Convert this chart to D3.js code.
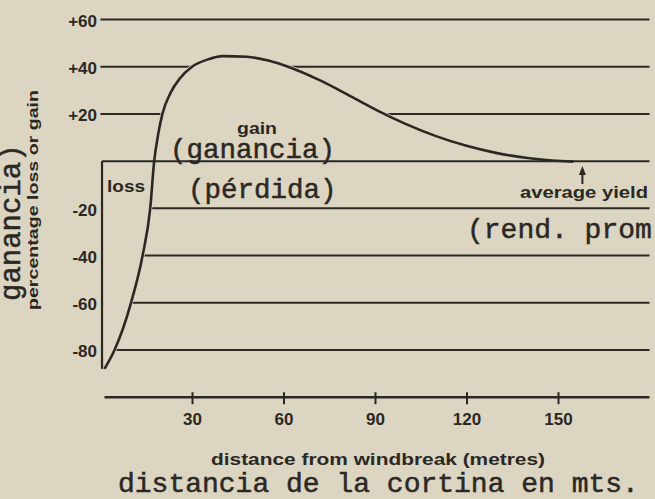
<!DOCTYPE html>
<html>
<head>
<meta charset="utf-8">
<script src="https://cdn.jsdelivr.net/npm/d3@7"></script>
<style>
	html, body { margin: 0; padding: 0; background: #dcd5c1; }
	svg { display: block; }
	.sans { font-family: "Liberation Sans", Arial, sans-serif; font-weight: bold; fill: #2b2824; }
	.mono { font-family: "Liberation Mono", "DejaVu Sans Mono", monospace; fill: #2b2824; stroke: #2b2824; stroke-width: 0.5; }
</style>
</head>
<body>
<div id="chartDiv"></div>
<script>
// yield gain/loss vs distance from a windbreak
var distance = [1.3, 4.6, 10, 13.8, 16.3, 17.6, 19, 20.3, 23, 26, 30, 35, 40, 48, 55, 61.5, 72, 83, 91, 100, 110, 120, 130, 140, 148, 155];
var percent = [-88, -80, -60, -40, -20, 0, 12, 20, 29, 35, 40, 43, 44.5, 44.2, 42.6, 40, 34.2, 26.8, 21.3, 15.8, 10.6, 6.5, 3.4, 1.3, 0.3, -0.2];

var gridValues = [60, 40, 20, -20, -40, -60, -80];
var xTickValues = [30, 60, 90, 120, 150];
var averageYieldAt = 158;

;(function() {

	var width = 655;
	var height = 499;
	var ink = "#2b2824";
	var paper = "#dcd5c1";

	var chart;
	var points;

	init();

	function init() {
		points = distance.map(function(d, i) { return { d: d, v: percent[i] }; });
		initializeChart();
		createScales();
		drawGrid();
		drawCurve();
		createAxes();
		drawLabels();
	}

	function initializeChart() {
		chart = d3.select("#chartDiv").append("svg")
			.attr("width", width)
			.attr("height", height);

		chart.append("rect")
			.attr("width", width)
			.attr("height", height)
			.attr("fill", paper);
	}

	function createScales() {
		chart.xScale = d3.scaleLinear()
			.domain([0, 180])
			.range([100.5, 649.5]);

		chart.yScale = d3.scaleLinear()
			.domain([-80, 60])
			.range([350, 19.5]);

		chart.curve = d3.curveMonotoneX;
	}

	function drawGrid() {
		var x = chart.xScale, y = chart.yScale;

		// horizontal rules, the negative ones start where the curve begins
		chart.selectAll(".grid")
			.data(gridValues)
			.enter().append("line")
				.attr("class", "grid")
				.attr("x1", function(v) { return v > 0 ? x(0) : x(distance[0]); })
				.attr("x2", x(180))
				.attr("y1", function(v) { return y(v); })
				.attr("y2", function(v) { return y(v); })
				.attr("stroke", ink)
				.attr("stroke-width", 2);

		// the area between the curve and zero is clear paper
		var area = d3.area()
			.x(function(p) { return x(p.d); })
			.y0(y(0))
			.y1(function(p) { return y(p.v); })
			.curve(chart.curve);

		chart.append("path")
			.datum(points)
			.attr("d", area)
			.attr("fill", paper)
			.attr("stroke", paper)
			.attr("stroke-width", 4);

		// zero line and the loss box edge
		chart.append("line")
			.attr("x1", x(0.5)).attr("x2", x(180))
			.attr("y1", y(0)).attr("y2", y(0))
			.attr("stroke", ink)
			.attr("stroke-width", 2);

		chart.append("line")
			.attr("x1", x(0.5)).attr("x2", x(0.5))
			.attr("y1", y(0)).attr("y2", y(percent[0]))
			.attr("stroke", ink)
			.attr("stroke-width", 2.2);
	}

	function drawCurve() {
		var line = d3.line()
			.x(function(p) { return chart.xScale(p.d); })
			.y(function(p) { return chart.yScale(p.v); })
			.curve(chart.curve);

		chart.append("path")
			.datum(points)
			.attr("d", line)
			.attr("fill", "none")
			.attr("stroke", ink)
			.attr("stroke-width", 2.6);
	}

	function createAxes() {
		var x = chart.xScale, y = chart.yScale;

		// x axis sits at the -100 level
		chart.xAxis = d3.axisBottom(x)
			.tickValues(xTickValues)
			.tickSizeOuter(0)
			.tickSizeInner(7)
			.tickPadding(0);

		chart.xAxisContainer = chart.append("g")
			.attr("class", "x axis")
			.attr("transform", "translate(0," + y(-100) + ")")
			.call(chart.xAxis);

		chart.xAxisContainer.select(".domain")
			.attr("d", "M" + (x(0) + 4) + ",0H" + x(180))
			.attr("stroke", ink)
			.attr("stroke-width", 2.4);
		chart.xAxisContainer.selectAll(".tick line")
			.attr("y1", -5)
			.attr("stroke", ink)
			.attr("stroke-width", 2);
		chart.xAxisContainer.selectAll(".tick text")
			.attr("class", "sans")
			.attr("y", 28)
			.attr("dy", 0)
			.style("font-size", "17px")
			.attr("fill", ink);

		// y tick labels, no zero
		chart.yAxis = d3.axisLeft(y)
			.tickValues(gridValues)
			.tickSize(0)
			.tickPadding(0)
			.tickFormat(function(v) { return (v > 0 ? "+" : "") + v; });

		chart.yAxisContainer = chart.append("g")
			.attr("class", "y axis")
			.attr("transform", "translate(97,0)")
			.call(chart.yAxis);

		chart.yAxisContainer.select(".domain").remove();
		chart.yAxisContainer.selectAll(".tick text")
			.attr("class", "sans")
			.attr("dy", "0.4em")
			.style("font-size", "17px")
			.attr("fill", ink);
	}

	function drawLabels() {
		var x = chart.xScale, y = chart.yScale;

		function sans(str, px, py, size, len) {
			return chart.append("text")
				.attr("class", "sans")
				.attr("x", px).attr("y", py)
				.attr("textLength", len)
				.attr("lengthAdjust", "spacingAndGlyphs")
				.style("font-size", size + "px")
				.text(str);
		}

		function mono(str, px, py, size) {
			return chart.append("text")
				.attr("class", "mono")
				.attr("x", px).attr("y", py)
				.style("font-size", size + "px")
				.text(str);
		}

		sans("gain", 237, 134, 16, 40);
		mono("(ganancia)", 170, 158, 27.5);
		sans("loss", 107, 192, 16, 38);
		mono("(pérdida)", 188, 198, 27.5);

		// average yield arrow
		var ax = x(averageYieldAt);
		chart.append("line")
			.attr("x1", ax).attr("x2", ax)
			.attr("y1", 184).attr("y2", 172)
			.attr("stroke", ink)
			.attr("stroke-width", 2);
		chart.append("path")
			.attr("d", "M" + ax + ",166L" + (ax - 3.5) + ",175L" + (ax + 3.5) + ",175Z")
			.attr("fill", ink);

		sans("average yield", 520, 198, 16, 128);
		mono("(rend. prom", 467, 238, 28);

		// axis titles
		sans("distance from windbreak (metres)", 211, 465, 17, 334);
		mono("distancia de la cortina en mts.", 118, 492, 28);

		chart.append("text")
			.attr("class", "sans")
			.attr("transform", "translate(38,310) rotate(-90)")
			.attr("textLength", 220)
			.attr("lengthAdjust", "spacingAndGlyphs")
			.style("font-size", "15px")
			.text("percentage loss or gain");

		chart.append("text")
			.attr("class", "mono")
			.attr("transform", "translate(20,301) rotate(-90)")
			.style("font-size", "29px")
			.text("ganancia)");
	}

})();
</script>
</body>
</html>
